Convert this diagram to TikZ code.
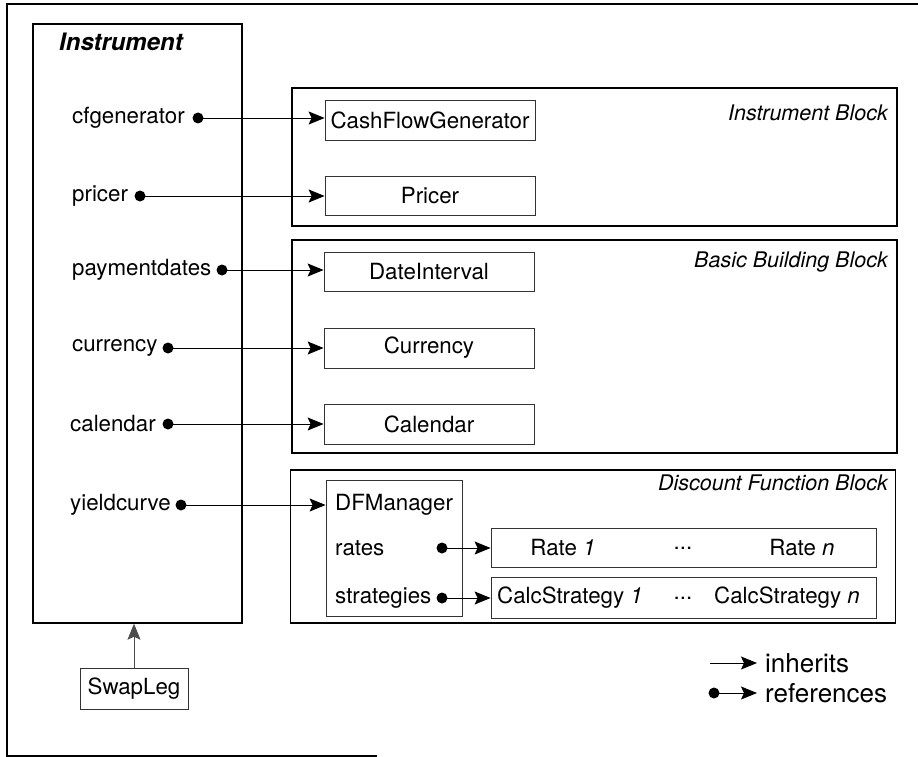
\documentclass[tikz,border=0pt]{standalone}
\usepackage{fontspec}
\setmainfont{TeX Gyre Heros}
\usetikzlibrary{arrows.meta}
\begin{document}
\begin{tikzpicture}[x=1pt,y=-1pt,
  every node/.style={font=\fontsize{22.3}{26}\selectfont, inner sep=0pt},
  block/.style={draw, line width=1.8pt, rectangle},
  cls/.style={draw, line width=0.8pt, rectangle, draw=black!80},
  lbl/.style={anchor=west},
  dot/.style={circle, fill=black, minimum size=11pt, inner sep=0pt},
  ref/.style={line width=0.9pt, -{Stealth[length=16pt,width=13pt,inset=3pt]}},
  btitle/.style={anchor=east, font=\fontsize{21.5}{25}\selectfont\itshape}]
\useasboundingbox (0,0) rectangle (918,757);
% outer frame (partial)
\draw[line width=1.2pt] (377,756) -- (7,756) -- (7,4) -- (918,4);
% Instrument
\node[draw, line width=1.4pt, minimum width=209pt, minimum height=599pt] (inst) at (137.5,323.5) {};
\node[anchor=west, font=\fontsize{24}{28}\selectfont\bfseries\itshape] (insttitle) at (59,42) {Instrument};
% blocks
\node[block, minimum width=605pt, minimum height=138pt] (ib) at (594.5,157) {};
\node[btitle] (ibt) at (888,113) {Instrument Block};
\node[block, minimum width=605pt, minimum height=213pt] (bb) at (594.5,346.5) {};
\node[btitle] (bbt) at (888,262) {Basic Building Block};
\node[block, minimum width=605pt, minimum height=153pt] (df) at (593,546.5) {};
\node[btitle] (dft) at (888,483) {Discount Function Block};
% class boxes
\node[cls, minimum width=210pt, minimum height=40pt] (cfg) at (430,120) {CashFlowGenerator};
\node[cls, minimum width=210pt, minimum height=39pt] (pr) at (430,196) {Pricer};
\node[cls, minimum width=210pt, minimum height=39pt] (di) at (429,271.5) {DateInterval};
\node[cls, minimum width=210pt, minimum height=40pt] (cu) at (429,348) {Currency};
\node[cls, minimum width=210pt, minimum height=40pt] (ca) at (429,424) {Calendar};
\node[cls, minimum width=136pt, minimum height=136pt] (dfm) at (394,548) {};
\node[cls, minimum width=385pt, minimum height=39pt] (rt) at (683.5,547.5) {};
\node[cls, minimum width=385pt, minimum height=41pt] (cs) at (683.5,597.5) {};
\node[cls, minimum width=108pt, minimum height=41pt] (sl) at (134,688.5) {SwapLeg};
% DFManager content
\node[lbl] (dfmt) at (335,505) {DFManager};
\node[lbl] (rates) at (335,548) {rates};
\node[lbl] (strat) at (335,598) {strategies};
\node[dot] (drates) at (442,548) {};
\node[dot] (dstrat) at (442,598) {};
\node (r1) at (563,548) {Rate \textit{1}};
\node (rd) at (683,548) {...};
\node (rn) at (802,548) {Rate \textit{n}};
\node (c1) at (570,598) {CalcStrategy \textit{1}};
\node (cd) at (683,598) {...};
\node (cn) at (787,598) {CalcStrategy \textit{n}};
% Instrument members
\node[lbl] (m1) at (72,118) {cfgenerator};
\node[dot] (d1) at (198,118) {};
\node[lbl] (m2) at (72,196) {pricer};
\node[dot] (d2) at (140,196) {};
\node[lbl] (m3) at (72,270) {paymentdates};
\node[dot] (d3) at (222,270) {};
\node[lbl] (m4) at (72,348) {currency};
\node[dot] (d4) at (168,348) {};
\node[lbl] (m5) at (70,424) {calendar};
\node[dot] (d5) at (168,424) {};
\node[lbl] (m6) at (70,505) {yieldcurve};
\node[dot] (d6) at (181,505) {};
% references
\draw[ref] (d1.center) -- (d1.center -| cfg.west);
\draw[ref] (d2.center) -- (d2.center -| pr.west);
\draw[ref] (d3.center) -- (d3.center -| di.west);
\draw[ref] (d4.center) -- (d4.center -| cu.west);
\draw[ref] (d5.center) -- (d5.center -| ca.west);
\draw[ref] (d6.center) -- (d6.center -| dfm.west);
\draw[ref] (drates.center) -- (drates.center -| rt.west);
\draw[ref] (dstrat.center) -- (dstrat.center -| cs.west);
% inheritance
\draw[ref, draw=black!70] (sl.north) -- (inst.south -| sl.north);
% legend
\coordinate (la1) at (710,663);
\coordinate (la2) at (757,663);
\node[dot] (ld) at (714,693) {};
\coordinate (lb2) at (757,693);
\draw[ref] (la1) -- (la2);
\draw[ref] (ld.center) -- (lb2);
\node[lbl, font=\fontsize{26}{30}\selectfont] (linh) at (765,663) {inherits};
\node[lbl, font=\fontsize{26}{30}\selectfont] (lref) at (765,693) {references};
\end{tikzpicture}
\end{document}
